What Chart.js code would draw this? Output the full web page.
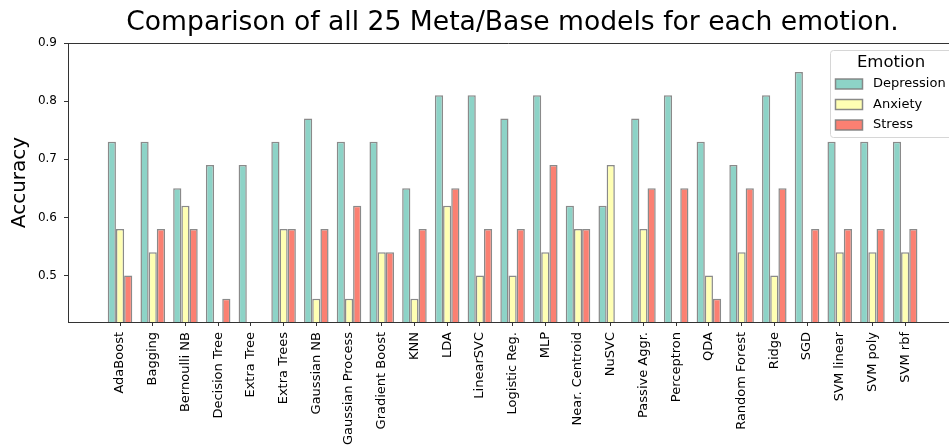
<!DOCTYPE html>
<html>
<head>
<meta charset="utf-8">
<title>Model comparison per emotion</title>
<script src="https://cdn.jsdelivr.net/npm/chart.js@4/dist/chart.umd.min.js"></script>
<style>
  html, body { margin: 0; padding: 0; background: #fff; }
  canvas { display: block; }
</style>
</head>
<body>
<canvas id="chart" width="949" height="446"></canvas>
<script>
// Model names along the x axis
const categories = [
  'AdaBoost', 'Bagging', 'Bernoulli NB', 'Decision Tree', 'Extra Tree',
  'Extra Trees', 'Gaussian NB', 'Gaussian Process', 'Gradient Boost', 'KNN',
  'LDA', 'LinearSVC', 'Logistic Reg.', 'MLP', 'Near. Centroid',
  'NuSVC', 'Passive Aggr.', 'Perceptron', 'QDA', 'Random Forest',
  'Ridge', 'SGD', 'SVM linear', 'SVM poly', 'SVM rbf'
];

// Accuracy per model (null = below the visible range)
const depression = [0.73, 0.73, 0.65, 0.69, 0.69, 0.73, 0.77, 0.73, 0.73, 0.65,
                    0.81, 0.81, 0.77, 0.81, 0.62, 0.62, 0.77, 0.81, 0.73, 0.69,
                    0.81, 0.85, 0.73, 0.73, 0.73];
const anxiety    = [0.58, 0.54, 0.62, null, null, 0.58, 0.46, 0.46, 0.54, 0.46,
                    0.62, 0.50, 0.50, 0.54, 0.58, 0.69, 0.58, null, 0.50, 0.54,
                    0.50, null, 0.54, 0.54, 0.54];
const stress     = [0.50, 0.58, 0.58, 0.46, null, 0.58, 0.58, 0.62, 0.54, 0.58,
                    0.65, 0.58, 0.58, 0.69, 0.58, null, 0.65, 0.65, 0.46, 0.65,
                    0.65, 0.58, 0.58, 0.58, 0.58];

const seriesNames = ['Depression', 'Anxiety', 'Stress'];
const yTicks = [0.5, 0.6, 0.7, 0.8, 0.9];

const FONT = "'DejaVu Sans', 'Liberation Sans', sans-serif";
const palette = ['#8dd3c7', '#ffffb3', '#fb8072'];
const edge = 'rgba(125,125,125,0.9)';

const toPoints = arr => arr.map((v, i) => ({ x: i, y: v }));

// Title centred over the plot
const titlePlugin = {
  id: 'plotTitle',
  afterDraw(chart) {
    const { ctx, chartArea } = chart;
    ctx.save();
    ctx.font = `26.6px ${FONT}`;
    ctx.fillStyle = '#000';
    ctx.textAlign = 'center';
    ctx.textBaseline = 'middle';
    ctx.fillText('Comparison of all 25 Meta/Base models for each emotion.',
                 (chartArea.left + chartArea.right) / 2 + 4, 23);
    ctx.restore();
  }
};

// Top spine of the axes box
const framePlugin = {
  id: 'topSpine',
  afterDatasetsDraw(chart) {
    const { ctx, chartArea } = chart;
    ctx.save();
    ctx.strokeStyle = '#333';
    ctx.lineWidth = 1;
    ctx.beginPath();
    ctx.moveTo(chartArea.left, chartArea.top + 0.5);
    ctx.lineTo(chartArea.right, chartArea.top + 0.5);
    ctx.stroke();
    ctx.restore();
  }
};

// Legend box in the upper right corner of the plot
const legendPlugin = {
  id: 'boxLegend',
  afterDraw(chart) {
    const { ctx, chartArea } = chart;
    const x0 = 830, y0 = 50, w = chartArea.right - x0 + 6, h = 87;
    ctx.save();
    ctx.fillStyle = 'rgba(255,255,255,0.85)';
    ctx.strokeStyle = '#d6d6d6';
    ctx.lineWidth = 1;
    ctx.beginPath();
    ctx.roundRect(x0 + 0.5, y0 + 0.5, w, h, 3);
    ctx.fill();
    ctx.stroke();

    ctx.fillStyle = '#000';
    ctx.textBaseline = 'middle';
    ctx.textAlign = 'center';
    ctx.font = `16.5px ${FONT}`;
    ctx.fillText('Emotion', 891, 63);

    ctx.textAlign = 'left';
    ctx.font = `13px ${FONT}`;
    chart.data.datasets.forEach((ds, i) => {
      const cy = 84 + i * 20.5;
      ctx.fillStyle = ds.backgroundColor;
      ctx.fillRect(835.5, cy - 5, 27, 10);
      ctx.strokeStyle = ds.borderColor;
      ctx.lineWidth = 1.5;
      ctx.strokeRect(835.5, cy - 5, 27, 10);
      ctx.fillStyle = '#000';
      ctx.fillText(ds.label, 873, cy);
    });
    ctx.restore();
  }
};

const datasets = [depression, anxiety, stress].map((arr, i) => ({
  label: seriesNames[i],
  data: toPoints(arr),
  backgroundColor: palette[i],
  borderColor: edge,
  borderWidth: 1.5,
  borderSkipped: 'start',
  categoryPercentage: 0.75,
  barPercentage: 1.0
}));

new Chart(document.getElementById('chart'), {
  type: 'bar',
  data: { datasets },
  options: {
    responsive: false,
    animation: false,
    devicePixelRatio: 1,
    layout: { padding: { top: 43, left: 0, right: 0, bottom: 0 } },
    plugins: {
      legend: { display: false },
      title: { display: false },
      tooltip: { enabled: false }
    },
    scales: {
      x: {
        type: 'linear',
        min: -1.59,
        max: 25.34,
        offset: false,
        grid: { offset: false, drawOnChartArea: false, drawTicks: true, tickLength: 4, color: '#333' },
        border: { display: true, color: '#333', width: 1 },
        afterBuildTicks(scale) {
          scale.ticks = categories.map((_, i) => ({ value: i }));
        },
        afterFit(scale) { scale.height = 124; },
        ticks: {
          autoSkip: false,
          minRotation: 90,
          maxRotation: 90,
          padding: 6,
          color: '#000',
          font: { family: FONT, size: 13 },
          callback: v => categories[v] ?? ''
        }
      },
      y: {
        type: 'linear',
        min: 0.42,
        max: 0.9,
        grid: { drawOnChartArea: false, drawTicks: true, tickLength: 4, color: '#333' },
        border: { display: true, color: '#333', width: 1 },
        afterBuildTicks(scale) {
          scale.ticks = yTicks.map(v => ({ value: v }));
        },
        afterFit(scale) { scale.width = 68; },
        title: {
          display: true,
          text: 'Accuracy',
          color: '#000',
          font: { family: FONT, size: 20 },
          padding: { top: 8, bottom: 0 }
        },
        ticks: {
          padding: 7,
          color: '#000',
          font: { family: FONT, size: 12 },
          callback: v => v.toFixed(1)
        }
      }
    }
  },
  plugins: [titlePlugin, framePlugin, legendPlugin]
});
</script>
</body>
</html>
